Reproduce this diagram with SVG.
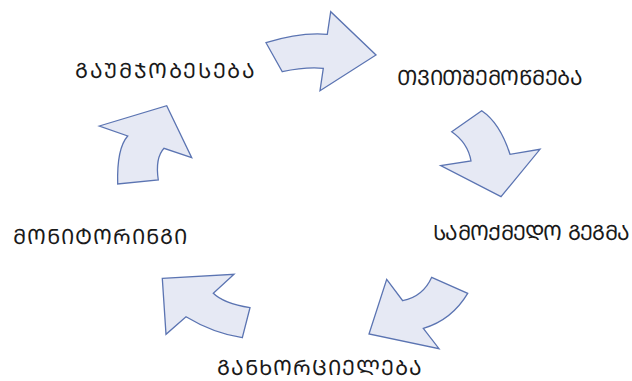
<svg xmlns="http://www.w3.org/2000/svg" width="632" height="381" viewBox="0 0 632 381">
<style>
.arr{fill:#e6e9f4;stroke:#5b74b2;stroke-width:1.3;stroke-linejoin:miter}
.lbl{font-family:"DejaVu Sans","Noto Sans",sans-serif;font-size:21px;fill:#1a1a1a}
</style>
<rect width="632" height="381" fill="#ffffff"/>
<g id="connectors">
<path class="arr" d="M266,42.7 Q300,32 327.3,34.3 L330.7,11.7 L376,55 L320,90.7 L323.3,68.3 Q305,66.7 282.3,71.7 Z"/>
<path class="arr" d="M451.7,131.7 L481.7,110.7 Q500,123 510,154.3 L540,149.3 L501,196.7 L440.7,165.7 L471,161 Q468,143 451.7,131.7 Z"/>
<path class="arr" d="M431.7,277.3 L467.7,293.3 Q451.7,320 423.3,328.3 L439,348.7 L369,334 L386.7,279.3 L402.7,300.7 Q423,296.7 431.7,277.3 Z"/>
<path class="arr" d="M162.3,278.3 L234,274.3 L213.3,293.3 Q223.3,303.3 250,307.7 L242.3,337.7 Q213,333 186,316.7 L166,334.3 Z"/>
<path class="arr" d="M99.3,126 L166.7,105.7 L191.7,157.7 L164,148.3 Q155,158 158.3,180 L117.7,184 Q116.7,148.3 127.7,136 Z"/>
</g>
<g id="node-improvement"><text class="lbl" x="75" y="78" textLength="180" lengthAdjust="spacing">ᲒᲐᲣᲛᲯᲝᲑᲔᲡᲔᲑᲐ</text></g>
<g id="node-selfcheck"><text class="lbl" x="397" y="85" textLength="186" lengthAdjust="spacing">ᲗᲕᲘᲗᲨᲔᲛᲝᲬᲛᲔᲑᲐ</text></g>
<g id="node-actionplan"><text class="lbl" x="433" y="240" textLength="197" lengthAdjust="spacing">ᲡᲐᲛᲝᲥᲛᲔᲓᲝ ᲒᲔᲒᲛᲐ</text></g>
<g id="node-implementation"><text class="lbl" x="217" y="375" textLength="205" lengthAdjust="spacing">ᲒᲐᲜᲮᲝᲠᲪᲘᲔᲚᲔᲑᲐ</text></g>
<g id="node-monitoring"><text class="lbl" x="13" y="244" textLength="174" lengthAdjust="spacing">ᲛᲝᲜᲘᲢᲝᲠᲘᲜᲒᲘ</text></g>
</svg>
